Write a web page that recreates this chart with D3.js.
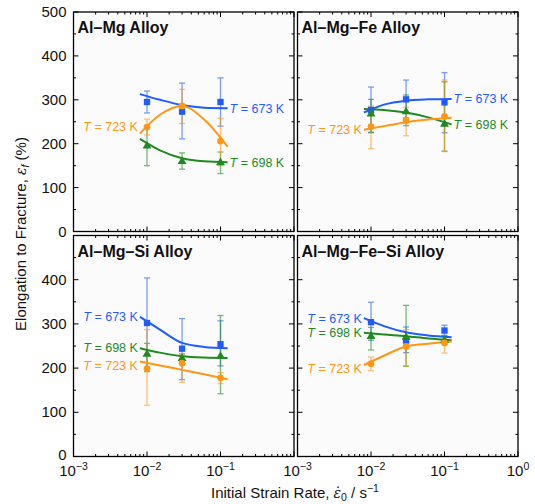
<!DOCTYPE html>
<html>
<head>
<meta charset="utf-8">
<script src="https://cdn.jsdelivr.net/npm/d3@7/dist/d3.min.js"></script>
<style>
  html, body { margin: 0; padding: 0; background: #ffffff; }
  svg { display: block; font-family: "Liberation Sans", Arial, Helvetica, sans-serif; }
</style>
</head>
<body>
<svg id="chart" width="535" height="504"></svg>
<script>
// ---------- DATA ----------
const panelTitles = ["Al–Mg Alloy", "Al–Mg–Fe Alloy", "Al–Mg–Si Alloy", "Al–Mg–Fe–Si Alloy"];
const temperatures = ["673", "698", "723"];           // series order: 673 K, 698 K, 723 K
const strainRates = [0.01, 0.03, 0.1];                 // measured strain rates (s^-1)
const fitRates = [0.008, 0.015, 0.03, 0.06, 0.125];    // x positions where fitted curves were read
const yTicks = [0, 100, 200, 300, 400, 500];
const xTickExponents = [-3, -2, -1, 0];

// Al-Mg
const alMgMean = [[295, 273, 295], [197, 162, 159], [238, 286, 206]];
const alMgLow  = [[270, 211, 240], [150, 142, 132], [220, 246, 150]];
const alMgHigh = [[320, 338, 350], [238, 179, 181], [256, 324, 258]];
const alMgFit  = [[313, 300, 288, 282, 281], [211, 185, 167, 160, 158], [223, 266, 286, 255, 193]];
// Al-Mg-Fe
const alMgFeMean = [[277, 301, 294], [270, 275, 247], [239, 253, 262]];
const alMgFeLow  = [[225, 259, 225], [226, 241, 183], [189, 218, 182]];
const alMgFeHigh = [[329, 345, 362], [301, 311, 341], [286, 283, 345]];
const alMgFeFit  = [[271, 289, 298, 301, 302], [279, 277, 271, 260, 244], [232, 240, 249, 255, 259]];
// Al-Mg-Si
const alMgSiMean = [[302, 244, 254], [234, 224, 229], [199, 211, 178]];
const alMgSiLow  = [[200, 174, 205], [192, 215, 142], [116, 168, 165]];
const alMgSiHigh = [[404, 312, 307], [256, 232, 319], [287, 232, 190]];
const alMgSiFit  = [[316, 287, 257, 248, 245], [245, 235, 227, 224, 223], [215, 206, 196, 186, 175]];
// Al-Mg-Fe-Si
const alMgFeSiMean = [[304, 262, 285], [274, 272, 265], [210, 249, 257]];
const alMgFeSiLow  = [[263, 235, 274], [241, 204, 258], [194, 205, 234]];
const alMgFeSiHigh = [[349, 293, 297], [292, 342, 272], [225, 287, 269]];
const alMgFeSiFit  = [[313, 295, 281, 274, 270], [280, 276, 272, 267, 263], [207, 228, 249, 255, 260]];

// ---------- STYLE / LAYOUT ----------
const colors = ["#1f5cff", "#1f8a1f", "#ff9614"];
const shapes = [d3.symbolSquare, d3.symbolTriangle, d3.symbolCircle];
const panelData = [
  {mean: alMgMean, low: alMgLow, high: alMgHigh, fit: alMgFit, sides: ["right", "right", "left"], dy: [0, 0, -7]},
  {mean: alMgFeMean, low: alMgFeLow, high: alMgFeHigh, fit: alMgFeFit, sides: ["right", "right", "left"], dy: [0, 0, 0]},
  {mean: alMgSiMean, low: alMgSiLow, high: alMgSiHigh, fit: alMgSiFit, sides: ["left", "left", "left"], dy: [0, -1, 4]},
  {mean: alMgFeSiMean, low: alMgFeSiLow, high: alMgFeSiHigh, fit: alMgFeSiFit, sides: ["left", "left", "left"], dy: [0, 0, 3]}
];
const boxes = [
  {x0: 73.5, x1: 294, y0: 12, y1: 231.5},
  {x0: 297.5, x1: 518, y0: 12, y1: 231.5},
  {x0: 73.5, x1: 294, y0: 235.5, y1: 456.5},
  {x0: 297.5, x1: 518, y0: 235.5, y1: 456.5}
];

const svg = d3.select("#chart");

boxes.forEach((b, pi) => {
  const x = d3.scaleLog().domain([1e-3, 1]).range([b.x0, b.x1]);
  const y = d3.scaleLinear().domain([0, 500]).range([b.y1, b.y0]);
  const g = svg.append("g");
  const pd = panelData[pi];

  // background
  g.append("rect").attr("x", b.x0).attr("y", b.y0)
    .attr("width", b.x1 - b.x0).attr("height", b.y1 - b.y0)
    .attr("fill", "#fbfbfb");

  // ticks (inward, all four sides)
  const tk = g.append("g").attr("stroke", "#000").attr("stroke-width", 1);
  const majorX = xTickExponents.map(e => Math.pow(10, e));
  const minorX = [];
  for (let e = -3; e < 0; e++) for (let m = 2; m <= 9; m++) minorX.push(m * Math.pow(10, e));
  majorX.forEach(v => {
    tk.append("line").attr("x1", x(v)).attr("x2", x(v)).attr("y1", b.y1).attr("y2", b.y1 - 5);
    tk.append("line").attr("x1", x(v)).attr("x2", x(v)).attr("y1", b.y0).attr("y2", b.y0 + 5);
  });
  minorX.forEach(v => {
    tk.append("line").attr("x1", x(v)).attr("x2", x(v)).attr("y1", b.y1).attr("y2", b.y1 - 2.5);
    tk.append("line").attr("x1", x(v)).attr("x2", x(v)).attr("y1", b.y0).attr("y2", b.y0 + 2.5);
  });
  d3.range(0, 501, 50).forEach(v => {
    const len = v % 100 === 0 ? 5 : 2.5;
    tk.append("line").attr("x1", b.x0).attr("x2", b.x0 + len).attr("y1", y(v)).attr("y2", y(v));
    tk.append("line").attr("x1", b.x1).attr("x2", b.x1 - len).attr("y1", y(v)).attr("y2", y(v));
  });

  // frame
  g.append("rect").attr("x", b.x0).attr("y", b.y0)
    .attr("width", b.x1 - b.x0).attr("height", b.y1 - b.y0)
    .attr("fill", "none").attr("stroke", "#000").attr("stroke-width", 1.3);

  // y tick labels on left panels
  if (pi % 2 === 0) {
    const labs = pi === 0 ? yTicks : yTicks.filter(v => v < 500);
    labs.forEach(v => {
      g.append("text").attr("x", b.x0 - 7).attr("y", y(v) + (v === 0 && pi === 2 ? 3 : 5))
        .attr("text-anchor", "end").attr("font-size", 15).attr("fill", "#111")
        .text(v);
    });
  }
  // x tick labels on bottom panels
  if (pi >= 2) {
    const exps = pi === 2 ? xTickExponents.slice(0, 3) : xTickExponents;
    exps.forEach(e => {
      const t = g.append("text").attr("x", x(Math.pow(10, e))).attr("y", b.y1 + 19)
        .attr("text-anchor", "middle").attr("font-size", 15).attr("fill", "#111");
      t.append("tspan").text("10");
      t.append("tspan").attr("font-size", 10.5).attr("dy", -6).text(e === 0 ? "0" : "−" + Math.abs(e));
    });
  }

  // panel title
  g.append("text").attr("x", b.x0 + 4).attr("y", b.y0 + 21)
    .attr("font-size", 16).attr("font-weight", "bold").attr("fill", "#111")
    .text(panelTitles[pi]);

  // error bars
  temperatures.forEach((T, si) => {
    const eg = g.append("g").attr("stroke", colors[si]).attr("stroke-width", 1.3).attr("opacity", 0.6);
    strainRates.forEach((r, i) => {
      const cx = x(r), lo = y(pd.low[si][i]), hi = y(pd.high[si][i]);
      eg.append("line").attr("x1", cx).attr("x2", cx).attr("y1", lo).attr("y2", hi);
      eg.append("line").attr("x1", cx - 3).attr("x2", cx + 3).attr("y1", lo).attr("y2", lo);
      eg.append("line").attr("x1", cx - 3).attr("x2", cx + 3).attr("y1", hi).attr("y2", hi);
    });
  });

  // fitted curves
  const line = d3.line().x((d, i) => x(fitRates[i])).y(d => y(d)).curve(d3.curveMonotoneX);
  temperatures.forEach((T, si) => {
    g.append("path").datum(pd.fit[si]).attr("d", line)
      .attr("fill", "none").attr("stroke", colors[si]).attr("stroke-width", 2);
  });

  // markers
  temperatures.forEach((T, si) => {
    const sym = d3.symbol().type(shapes[si]).size(si === 1 ? 34 : (si === 0 ? 40 : 36));
    strainRates.forEach((r, i) => {
      g.append("path").attr("d", sym)
        .attr("transform", `translate(${x(r)},${y(pd.mean[si][i]) + (si === 1 ? 1 : 0)})`)
        .attr("fill", colors[si]);
    });
  });

  // series labels
  temperatures.forEach((T, si) => {
    const side = pd.sides[si];
    const fit = pd.fit[si];
    const idx = side === "right" ? fit.length - 1 : 0;
    const lx = x(fitRates[idx]) + (side === "right" ? 2 : -2);
    const ly = y(fit[idx]) + 4.5 + pd.dy[si];
    const t = g.append("text").attr("x", lx).attr("y", ly)
      .attr("text-anchor", side === "right" ? "start" : "end")
      .attr("font-size", 12.5).attr("fill", colors[si]);
    t.append("tspan").attr("font-style", "italic").text("T");
    t.append("tspan").text(" = " + T + " K");
  });
});

// axis titles
const xt = svg.append("text").attr("x", 295).attr("y", 498).attr("text-anchor", "middle")
  .attr("font-size", 15).attr("fill", "#111");
xt.append("tspan").text("Initial Strain Rate, ");
xt.append("tspan").attr("font-style", "italic").attr("font-family", '"DejaVu Serif", serif').attr("font-size", 14).text("ε̇");
xt.append("tspan").attr("font-size", 10.5).attr("dy", 3).text("0");
xt.append("tspan").attr("dy", -3).text(" / s");
xt.append("tspan").attr("font-size", 10.5).attr("dy", -6).text("−1");

const yt = svg.append("text").attr("transform", "translate(26,234) rotate(-90)")
  .attr("text-anchor", "middle").attr("font-size", 15).attr("fill", "#111");
yt.append("tspan").text("Elongation to Fracture, ");
yt.append("tspan").attr("font-style", "italic").attr("font-family", '"DejaVu Serif", serif').attr("font-size", 14).text("ε");
yt.append("tspan").attr("font-style", "italic").attr("font-size", 10.5).attr("dy", 3).text("f");
yt.append("tspan").attr("dy", -3).text(" (%)");
</script>
</body>
</html>
